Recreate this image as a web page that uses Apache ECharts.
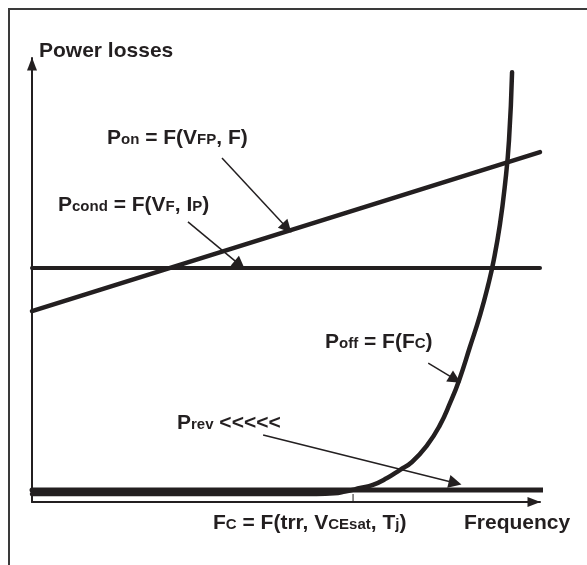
<!DOCTYPE html>
<html>
<head>
<meta charset="utf-8">
<style>
html, body { margin: 0; padding: 0; background: #fff; }
#main { width: 587px; height: 565px; }
</style>
<script src="https://cdn.jsdelivr.net/npm/echarts@6/dist/echarts.min.js"></script>
</head>
<body>
<div id="main"></div>
<script>
var ink = '#231f20';
var font = '"Liberation Sans", Arial, sans-serif';

// frequency (x) and power losses (y), both in arbitrary units 0..100
var pcondLine = [[0, 52.7], [100, 52.7]];
var ponLine = [[0, 43.0], [100, 78.8]];
var prevLine = [[0, 2.7], [100.5, 2.7]];
var poffCurve = [
    [0, 1.8], [56, 1.8], [59.5, 1.95], [61.6, 2.36], [64.6, 3.15], [67.1, 3.85],
    [69.9, 5.4], [72.4, 7.2], [74.8, 9.0], [77.8, 12.8], [80.3, 17.3],
    [82.3, 22.3], [84.1, 27.5], [86.2, 34.9], [88.2, 42.1], [89.8, 48.9],
    [90.9, 54.5], [92.1, 62.4], [93.1, 71.4], [93.9, 81.5], [94.5, 96.8]
];
var fcTick = [[63.2, 0], [63.2, 1.8]];

// annotation arrows: [from, to]
var arrows = [
    [[37.4, 77.5], [50.2, 61.7]],   // Pon
    [[30.7, 63.1], [40.9, 53.4]],   // Pcond
    [[78.0, 31.3], [83.3, 27.6]],   // Poff
    [[45.5, 15.1], [83.3, 4.3]]     // Prev
];

var myChart = echarts.init(document.getElementById('main'));

function label(text, x, y) {
    return {
        type: 'text',
        x: x,
        y: y,
        style: {
            text: text,
            fill: ink,
            align: 'left',
            verticalAlign: 'bottom',
            rich: {
                m: { fontSize: 21, fontWeight: 'bold', fontFamily: font, fill: ink, verticalAlign: 'bottom' },
                s: { fontSize: 15, fontWeight: 'bold', fontFamily: font, fill: ink, verticalAlign: 'bottom', padding: [0, 0, 2, 0] }
            }
        }
    };
}

function axisCommon() {
    return {
        type: 'value',
        min: 0,
        max: 100,
        axisLine: {
            show: true,
            onZero: false,
            symbol: ['none', 'triangle'],
            symbolSize: [10, 13],
            symbolOffset: [0, -6],
            lineStyle: { color: ink, width: 2 }
        },
        axisTick: { show: false },
        axisLabel: { show: false },
        splitLine: { show: false }
    };
}

var lineStyleOf = function (w) {
    return { color: ink, width: w, cap: 'round' };
};

var option = {
    backgroundColor: '#fff',
    animation: false,
    grid: { left: 32, right: 47, top: 58, bottom: 63 },
    xAxis: axisCommon(),
    yAxis: axisCommon(),
    graphic: [
        {
            type: 'polyline',
            shape: { points: [[9, 565], [9, 9], [587, 9]] },
            style: { stroke: '#3a3a3a', lineWidth: 2, fill: null }
        },
        label('{m|Power losses}', 39, 62),
        label('{m|P}{s|on}{m| = F(V}{s|FP}{m|, F)}', 107, 149),
        label('{m|P}{s|cond}{m| = F(V}{s|F}{m|, I}{s|P}{m|)}', 58, 216),
        label('{m|P}{s|off}{m| = F(F}{s|C}{m|)}', 325, 353),
        label('{m|P}{s|rev}{m| <<<<<}', 177, 434),
        label('{m|F}{s|C}{m| = F(trr, V}{s|CEsat}{m|, T}{s|j}{m|)}', 213, 534),
        label('{m|Frequency}', 464, 534)
    ],
    series: [
        { name: 'Pcond', type: 'line', data: pcondLine, symbol: 'none', lineStyle: lineStyleOf(4) },
        { name: 'Pon', type: 'line', data: ponLine, symbol: 'none', lineStyle: lineStyleOf(4.5) },
        { name: 'Prev', type: 'line', data: prevLine, symbol: 'none', lineStyle: lineStyleOf(5) },
        { name: 'Poff', type: 'line', data: poffCurve, symbol: 'none', smooth: 0.5, lineStyle: lineStyleOf(4.5) },
        { name: 'Fc', type: 'line', data: fcTick, symbol: 'none', lineStyle: { color: ink, width: 1 } },
        {
            name: 'notes',
            type: 'lines',
            coordinateSystem: 'cartesian2d',
            silent: true,
            symbol: ['none', 'triangle'],
            symbolSize: [9, 13],
            lineStyle: { color: ink, width: 1.5, opacity: 1 },
            data: arrows.map(function (a) { return { coords: a }; })
        }
    ]
};

myChart.setOption(option);
</script>
</body>
</html>
